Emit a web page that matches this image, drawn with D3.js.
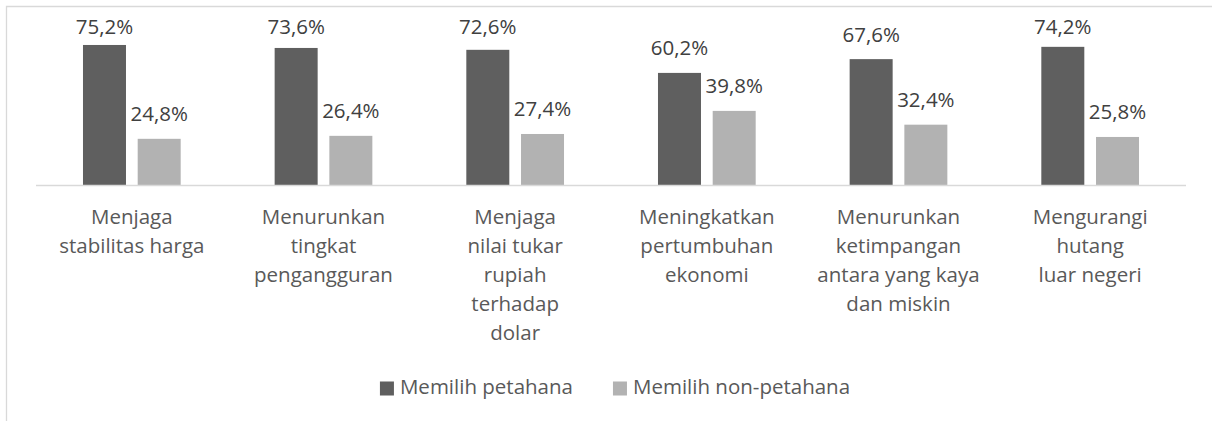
<!DOCTYPE html>
<html>
<head>
<meta charset="utf-8">
<script src="https://cdn.jsdelivr.net/npm/d3@7"></script>
<style>
  body { margin: 0; background: #fff; }
  svg text { font-family: "Open Sans", "DejaVu Sans", sans-serif; }
</style>
</head>
<body>
<svg id="chart"></svg>
<script>
// category labels, already split into lines like in the source chart
const categories = [
    ["Menjaga", "stabilitas harga"],
    ["Menurunkan", "tingkat", "pengangguran"],
    ["Menjaga", "nilai tukar", "rupiah", "terhadap", "dolar"],
    ["Meningkatkan", "pertumbuhan", "ekonomi"],
    ["Menurunkan", "ketimpangan", "antara yang kaya", "dan miskin"],
    ["Mengurangi", "hutang", "luar negeri"]
];
const seriesNames = ["Memilih petahana", "Memilih non-petahana"];
const petahana = [75.2, 73.6, 72.6, 60.2, 67.6, 74.2];
const nonPetahana = [24.8, 26.4, 27.4, 39.8, 32.4, 25.8];
const colors = ["#5f5f5f", "#b2b2b2"];

const width = 1212, height = 421;
const margin = {left: 36, right: 26, baseline: 185};

const svg = d3.select("#chart")
    .attr("width", width)
    .attr("height", height);

// chart frame (cropped: only top and left edges visible)
svg.append("path")
    .attr("d", `M6.5,${height} V6.5 H${width}`)
    .attr("fill", "none")
    .attr("stroke", "#d9d9d9")
    .attr("stroke-width", 1.3);

const x0 = d3.scaleBand()
    .domain(d3.range(categories.length))
    .range([margin.left, width - margin.right]);

const groupWidth = 97.7;
const x1 = d3.scaleBand()
    .domain([0, 1])
    .range([0, groupWidth])
    .paddingInner(0.214);

const y = d3.scaleLinear()
    .domain([0, 80])
    .range([margin.baseline, margin.baseline - 80 * 1.862]);

const rows = categories.map((c, i) => ({i, values: [petahana[i], nonPetahana[i]]}));

const groups = svg.selectAll("g.group")
    .data(rows)
    .enter()
    .append("g")
    .attr("class", "group")
    .attr("transform", d => `translate(${x0(d.i) + (x0.bandwidth() - groupWidth) / 2},0)`);

groups.selectAll("rect")
    .data(d => d.values.map((v, s) => ({v, s})))
    .enter()
    .append("rect")
    .attr("x", d => x1(d.s))
    .attr("y", d => y(d.v))
    .attr("width", x1.bandwidth())
    .attr("height", d => y(0) - y(d.v))
    .attr("fill", d => colors[d.s]);

// value labels, pushed down if they'd go past the top of the plot
groups.selectAll("text.val")
    .data(d => d.values.map((v, s) => ({v, s})))
    .enter()
    .append("text")
    .attr("class", "val")
    .attr("x", d => x1(d.s) + x1.bandwidth() / 2)
    .attr("y", d => Math.max(33.5, y(d.v) - 17.5))
    .attr("text-anchor", "middle")
    .attr("font-size", "20.5px")
    .attr("fill", "#404040")
    .text(d => d.v.toFixed(1).replace(".", ",") + "%");

// baseline
svg.append("line")
    .attr("x1", margin.left)
    .attr("x2", width - margin.right)
    .attr("y1", margin.baseline + 0.5)
    .attr("y2", margin.baseline + 0.5)
    .attr("stroke", "#d9d9d9")
    .attr("stroke-width", 1.5);

// category labels
const catText = svg.selectAll("text.cat")
    .data(rows)
    .enter()
    .append("text")
    .attr("class", "cat")
    .attr("text-anchor", "middle")
    .attr("font-size", "20.5px")
    .attr("fill", "#595959");

catText.selectAll("tspan")
    .data(d => categories[d.i].map(line => ({line, i: d.i})))
    .enter()
    .append("tspan")
    .attr("x", d => x0(d.i) + x0.bandwidth() / 2)
    .attr("y", (d, k) => 224 + k * 29)
    .text(d => d.line);

// legend
const legend = svg.append("g");
const items = legend.selectAll("g")
    .data(seriesNames)
    .enter()
    .append("g");

items.append("rect")
    .attr("width", 14)
    .attr("height", 14)
    .attr("y", 381.5)
    .attr("fill", (d, i) => colors[i]);

items.append("text")
    .attr("x", 20)
    .attr("y", 394)
    .attr("font-size", "20.5px")
    .attr("fill", "#595959")
    .text(d => d);

let offset = 0;
const itemX = [];
items.each(function () {
    itemX.push(offset);
    offset += this.getBBox().width + 40;
});
const total = offset - 40;
items.attr("transform", (d, i) => `translate(${itemX[i]},0)`);
legend.attr("transform", `translate(${615 - total / 2},0)`);
</script>
</body>
</html>
